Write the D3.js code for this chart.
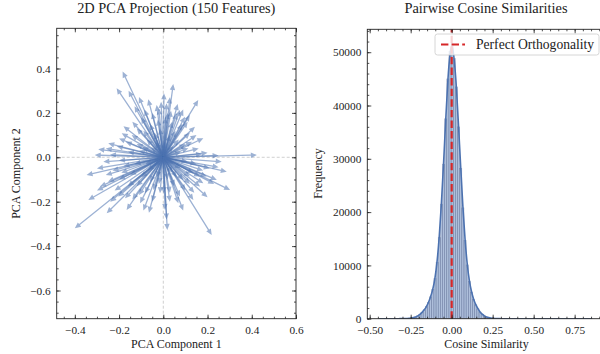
<!DOCTYPE html>
<html>
<head>
<meta charset="utf-8">
<script src="https://cdn.jsdelivr.net/npm/d3@7"></script>
<style>
  body { margin: 0; background: #fff; }
  svg { display: block; font-family: "Liberation Serif", "DejaVu Serif", serif; }
</style>
</head>
<body>
<svg id="chart" width="600" height="354"></svg>
<script>
// PCA loadings of the 150 features (component 1 / component 2)
const pc1 = [
  -0.184, -0.211, -0.157, -0.110, -0.068, -0.030, -0.020, -0.050, -0.085, -0.130,
  -0.100, -0.140, -0.188, -0.143, -0.249, -0.294, -0.241, -0.210, -0.170, -0.120,
  -0.090, -0.060, -0.040, -0.025, -0.075, -0.110, -0.160, -0.200, -0.055, -0.015,
  -0.180, -0.120, -0.035, -0.095, -0.260,
  0.045, 0.003, 0.158, 0.075, 0.098, 0.143, 0.181, 0.423, 0.113, 0.015,
  0.060, 0.090, 0.120, 0.040, 0.020, 0.055, 0.085, 0.110, 0.130, 0.160,
  0.200, 0.250, 0.070, 0.030, 0.010, 0.100, 0.150, 0.045, 0.080, 0.065,
  0.030, 0.120, 0.175, 0.035, 0.005,
  -0.400, -0.339, -0.347, -0.271, -0.286, -0.256, -0.166, -0.204, -0.173, -0.105,
  -0.083, -0.045, -0.015, -0.230, -0.200, -0.150, -0.120, -0.250, -0.300, -0.180,
  -0.130, -0.070, -0.060, -0.030, -0.100, -0.220, -0.140, -0.090, -0.050, -0.020,
  -0.160, -0.260, -0.200, -0.080, -0.040, -0.110, -0.190, -0.300, -0.240, -0.065,
  0.264, 0.287, 0.242, 0.302, 0.166, 0.219, 0.018, 0.008, 0.002, 0.075,
  0.136, 0.120, 0.181, 0.090, 0.196, 0.136, 0.068, 0.166, 0.050, 0.030,
  0.100, 0.210, 0.150, 0.080, 0.040, 0.230, 0.110, 0.060, 0.020, 0.140,
  0.180, 0.250, 0.090, 0.015, 0.120, 0.045,
  -0.010, 0.200, -0.310, 0.030
];
const pc2 = [
  0.386, 0.311, 0.300, 0.272, 0.261, 0.236, 0.220, 0.200, 0.215, 0.230,
  0.180, 0.160, 0.108, 0.100, 0.063, 0.036, 0.012, 0.050, 0.070, 0.060,
  0.120, 0.150, 0.110, 0.170, 0.080, 0.030, 0.025, 0.085, 0.045, 0.130,
  0.140, 0.130, 0.070, 0.045, 0.040,
  0.330, 0.288, 0.258, 0.213, 0.183, 0.138, 0.086, 0.010, 0.041, 0.243,
  0.198, 0.215, 0.110, 0.160, 0.200, 0.120, 0.150, 0.160, 0.070, 0.040,
  0.020, 0.008, 0.080, 0.100, 0.180, 0.060, 0.100, 0.050, 0.025, 0.240,
  0.270, 0.190, 0.015, 0.210, 0.070,
  -0.320, -0.192, -0.080, -0.020, -0.132, -0.252, -0.237, -0.177, -0.185, -0.207,
  -0.162, -0.147, -0.162, -0.060, -0.100, -0.080, -0.130, -0.110, -0.150, -0.040,
  -0.030, -0.060, -0.110, -0.090, -0.090, -0.150, -0.190, -0.240, -0.200, -0.120,
  -0.130, -0.080, -0.015, -0.030, -0.040, -0.170, -0.070, -0.050, -0.200, -0.250,
  -0.020, -0.065, -0.102, -0.147, -0.087, -0.350, -0.327, -0.237, -0.162, -0.177,
  -0.192, -0.087, -0.117, -0.102, -0.087, -0.072, -0.207, -0.132, -0.130, -0.200,
  -0.150, -0.050, -0.030, -0.050, -0.070, -0.120, -0.020, -0.090, -0.100, -0.160,
  -0.060, -0.045, -0.240, -0.280, -0.120, -0.030,
  0.250, -0.180, 0.010, -0.160
];

// histogram of pairwise cosine similarities (100 equal bins)
const binStart = -0.449;
const binWidth = 0.0131;
const binCounts = [
  1, 0, 0, 0, 0, 0, 0, 1, 2, 3,
  6, 12, 20, 35, 60, 110, 190, 320, 520, 800,
  1180, 1650, 2250, 3050, 4100, 5500, 7500, 10600, 15200, 21500,
  29000, 37500, 45000, 50200, 51700, 48800, 43500, 36000, 28200, 20800,
  14700, 10100, 7000, 5000, 3600, 2600, 1850, 1250, 820, 520,
  320, 190, 110, 60, 30, 15, 8, 4, 2, 1,
  0, 0, 0, 0, 0, 0, 0, 0, 0, 0,
  0, 0, 0, 0, 0, 0, 0, 0, 0, 0,
  0, 0, 0, 0, 0, 0, 0, 0, 0, 0,
  0, 0, 0, 0, 0, 0, 0, 0, 0, 1
];
const orthogonalAt = 0;

const pcaTicks = [-0.6, -0.4, -0.2, 0, 0.2, 0.4, 0.6];
const cosTicks = [-0.5, -0.25, 0, 0.25, 0.5, 0.75];
const freqTicks = [0, 10000, 20000, 30000, 40000, 50000];

const svg = d3.select('#chart');
const ink = '#222';

// left panel scales (equal aspect)
const xL = d3.scaleLinear().domain([-0.482, 0.600]).range([56.7, 296]);
const yL = d3.scaleLinear().domain([-0.727, 0.581]).range([318.7, 28.3]);

// right panel scales
const xR = d3.scaleLinear().domain([-0.5146, 0.929]).range([367.3, 604]);
const yR = d3.scaleLinear().domain([0, 54300]).range([318.7, 29.3]);

function minorTicks(scale, step) {
  const [a, b] = scale.domain();
  return d3.range(Math.ceil(a / step - 1e-9), Math.floor(b / step + 1e-9) + 1).map(i => +(i * step).toFixed(6));
}

function addAxes(x, y, xMajor, yMajor, xStep, yStep, xFmt, yFmt) {
  const [left, right] = x.range();
  const [bottom, top] = y.range();
  const g = svg.append('g');

  const sides = [
    [d3.axisBottom, x, `translate(0,${bottom})`, xMajor, xStep, xFmt, 7],
    [d3.axisTop, x, `translate(0,${top})`, xMajor, xStep, null, 6],
    [d3.axisLeft, y, `translate(${left},0)`, yMajor, yStep, yFmt, 6],
    [d3.axisRight, y, `translate(${right},0)`, yMajor, yStep, null, 6]
  ];

  sides.forEach(([axisFn, scale, tr, major, step, fmt, pad]) => {
    const inDomain = v => v >= scale.domain()[0] - 1e-9 && v <= scale.domain()[1] + 1e-9;
    // minor ticks
    g.append('g')
      .attr('transform', tr)
      .call(axisFn(scale).tickValues(minorTicks(scale, step)).tickSize(-2).tickFormat(''))
      .call(s => s.select('.domain').remove());
    // major ticks
    const ax = g.append('g')
      .attr('transform', tr)
      .call(axisFn(scale).tickValues(major.filter(inDomain)).tickSizeInner(-4).tickSizeOuter(0)
        .tickPadding(pad).tickFormat(fmt ? fmt : ''))
      .call(s => s.select('.domain').remove());
    ax.selectAll('text')
      .attr('fill', ink)
      .style('font-size', '11.3px')
      .style('font-family', '"Liberation Serif", serif');
  });

  g.selectAll('line').attr('stroke', ink).attr('stroke-width', 0.8);

  // frame
  g.append('rect')
    .attr('x', left).attr('y', top)
    .attr('width', right - left).attr('height', bottom - top)
    .attr('fill', 'none').attr('stroke', ink).attr('stroke-width', 0.9);
}

const defs = svg.append('defs');
defs.append('clipPath').attr('id', 'clipL').append('rect')
  .attr('x', 56.7).attr('y', 28.3).attr('width', 296 - 56.7).attr('height', 318.7 - 28.3);
defs.append('clipPath').attr('id', 'clipR').append('rect')
  .attr('x', 367.3).attr('y', 29.3).attr('width', 604 - 367.3).attr('height', 318.7 - 29.3);

// ---------- Left: PCA arrows ----------
const gl = svg.append('g').attr('clip-path', 'url(#clipL)');

// zero reference lines
gl.append('line')
  .attr('x1', xL(0)).attr('x2', xL(0)).attr('y1', yL.range()[0]).attr('y2', yL.range()[1])
  .attr('stroke', '#bbbbbb').attr('stroke-width', 0.7).attr('stroke-dasharray', '3,2');
gl.append('line')
  .attr('x1', xL.range()[0]).attr('x2', xL.range()[1]).attr('y1', yL(0)).attr('y2', yL(0))
  .attr('stroke', '#bbbbbb').attr('stroke-width', 0.7).attr('stroke-dasharray', '3,2');

function arrowPath(x0, y0, x1, y1) {
  const dx = x1 - x0, dy = y1 - y0, len = Math.hypot(dx, dy);
  const ux = dx / len, uy = dy / len, nx = -uy, ny = ux;
  const hl = Math.min(6, len * 0.6), hw = 2.7, sw = 0.65;
  const bx = x1 - ux * hl, by = y1 - uy * hl;
  return `M${x0 + nx * sw},${y0 + ny * sw}L${bx + nx * sw},${by + ny * sw}L${bx + nx * hw},${by + ny * hw}` +
    `L${x1},${y1}L${bx - nx * hw},${by - ny * hw}L${bx - nx * sw},${by - ny * sw}L${x0 - nx * sw},${y0 - ny * sw}Z`;
}

gl.selectAll('.arrow')
  .data(d3.range(pc1.length))
  .enter()
  .append('path')
  .attr('class', 'arrow')
  .attr('d', i => arrowPath(xL(0), yL(0), xL(pc1[i]), yL(pc2[i])))
  .attr('fill', '#4c72b0')
  .attr('fill-opacity', 0.55);

addAxes(xL, yL, pcaTicks, pcaTicks, 0.05, 0.05, d3.format('.1f'), d3.format('.1f'));

// ---------- Right: histogram ----------
const gr = svg.append('g').attr('clip-path', 'url(#clipR)');
const bins = binCounts.map((c, i) => ({ x0: binStart + i * binWidth, x1: binStart + (i + 1) * binWidth, count: c }));

gr.selectAll('.bar')
  .data(bins)
  .enter()
  .append('rect')
  .attr('class', 'bar')
  .attr('x', d => xR(d.x0))
  .attr('y', d => yR(d.count))
  .attr('width', d => xR(d.x1) - xR(d.x0))
  .attr('height', d => yR(0) - yR(d.count))
  .attr('fill', '#4c72b0')
  .attr('fill-opacity', 0.45)
  .attr('stroke', '#2c3e6b')
  .attr('stroke-opacity', 0.4)
  .attr('stroke-width', 0.5);

// smoothed density outline
const kde = d3.line()
  .x(d => xR((d.x0 + d.x1) / 2))
  .y(d => yR(d.count))
  .curve(d3.curveBasis);
gr.append('path')
  .datum(bins)
  .attr('d', kde)
  .attr('fill', 'none')
  .attr('stroke', '#4c72b0')
  .attr('stroke-width', 1.6);

// orthogonality marker
gr.append('line')
  .attr('x1', xR(orthogonalAt)).attr('x2', xR(orthogonalAt))
  .attr('y1', yR.range()[0]).attr('y2', yR.range()[1])
  .attr('stroke', '#d62728').attr('stroke-width', 2.2).attr('stroke-dasharray', '7.4,3.2');

addAxes(xR, yR, cosTicks, freqTicks, 0.05, 2000, d3.format('.2f'), d3.format('d'));

// legend
const lg = svg.append('g');
lg.append('rect')
  .attr('x', 435).attr('y', 34).attr('width', 164).attr('height', 21).attr('rx', 2.5)
  .attr('fill', '#fff').attr('fill-opacity', 0.8)
  .attr('stroke', '#cccccc').attr('stroke-width', 0.8);
lg.append('line')
  .attr('x1', 441).attr('x2', 465).attr('y1', 44.5).attr('y2', 44.5)
  .attr('stroke', '#d62728').attr('stroke-width', 2.2).attr('stroke-dasharray', '7.4,3.2');
lg.append('text')
  .attr('x', 476).attr('y', 49)
  .attr('fill', ink)
  .style('font-size', '13.6px')
  .text('Perfect Orthogonality');

// titles and labels
const texts = [
  { t: '2D PCA Projection (150 Features)', x: 176.3, y: 13, s: 14.4 },
  { t: 'Pairwise Cosine Similarities', x: 486, y: 13, s: 14.4 },
  { t: 'PCA Component 1', x: 176.3, y: 348, s: 12 },
  { t: 'Cosine Similarity', x: 486.5, y: 348, s: 12 }
];
texts.forEach(d => {
  svg.append('text')
    .attr('x', d.x).attr('y', d.y)
    .attr('text-anchor', 'middle')
    .attr('fill', ink)
    .style('font-size', d.s + 'px')
    .text(d.t);
});

svg.append('text')
  .attr('transform', 'translate(19.5,173.5) rotate(-90)')
  .attr('text-anchor', 'middle')
  .attr('fill', ink)
  .style('font-size', '12px')
  .text('PCA Component 2');

svg.append('text')
  .attr('transform', 'translate(322,173.5) rotate(-90)')
  .attr('text-anchor', 'middle')
  .attr('fill', ink)
  .style('font-size', '12px')
  .text('Frequency');
</script>
</body>
</html>
